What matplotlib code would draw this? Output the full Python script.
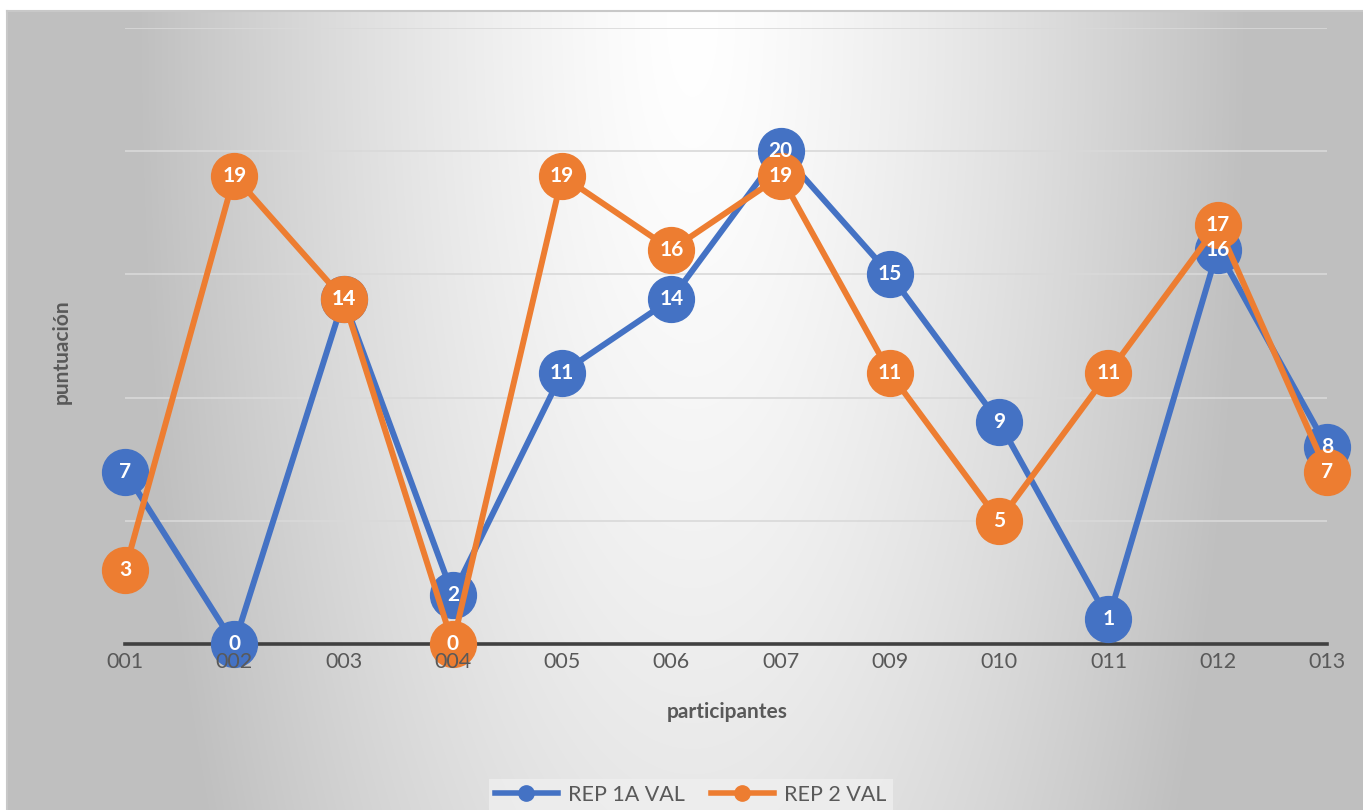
import matplotlib.pyplot as plt
from matplotlib.lines import Line2D
import numpy as np

participantes = ["001", "002", "003", "004", "005", "006",
                 "007", "009", "010", "011", "012", "013"]
rep_1a_val = [7, 0, 14, 2, 11, 14, 20, 15, 9, 1, 16, 8]
rep_2_val = [3, 19, 14, 0, 19, 16, 19, 11, 5, 11, 17, 7]

BLUE = "#4472C4"
ORANGE = "#ED7D31"
TEXT = "#595959"
W, H = 1363, 810

plt.rcParams["font.family"] = ["Lato", "DejaVu Sans"]

fig = plt.figure(figsize=(W / 100, H / 100), dpi=100)

# background: white margin, chart area filled with an elliptical grey-to-white gradient
bg = fig.add_axes([0, 0, 1, 1])
yy, xx = np.mgrid[0:H, 0:W]
d = np.sqrt(((xx - 692) / 557.0) ** 2 + ((yy - 20) / 1663.0) ** 2)
d = np.clip(d, 0, 1) ** 1.35
shade = (255 - 64 * d) / 255.0
shade[:11, :] = 1.0
shade[:, :7] = 1.0
bg.imshow(np.dstack([shade] * 3), extent=(0, W, H, 0), interpolation="bilinear")
bg.plot([7, W], [11, 11], color="#c8c8c8", lw=1.5)
bg.plot([7, 7], [11, H], color="#c8c8c8", lw=1.5)
bg.set_xlim(0, W)
bg.set_ylim(H, 0)
bg.axis("off")

ax = fig.add_axes([125 / W, 166 / H, (1327 - 125) / W, (644 - 28) / H])
ax.patch.set_alpha(0)
x = np.arange(len(participantes))
ax.set_xlim(0, len(participantes) - 1)
ax.set_ylim(0, 25)

for g in [5, 10, 15, 20, 25]:
    ax.axhline(g, color="#d9d9d9", lw=1.2, zorder=1)

for vals, color, z in [(rep_1a_val, BLUE, 3), (rep_2_val, ORANGE, 4)]:
    ax.plot(x, vals, color=color, lw=4.3, marker="o", ms=33, mec=color,
            mfc=color, zorder=z, clip_on=False, solid_capstyle="round")

for vals in [rep_1a_val, rep_2_val]:
    for xi, v in zip(x, vals):
        ax.text(xi, v, str(v), ha="center", va="center", color="white",
                fontsize=15, fontweight="bold", zorder=10)

for s in ["left", "right", "top"]:
    ax.spines[s].set_visible(False)
ax.spines["bottom"].set_color("#404040")
ax.spines["bottom"].set_linewidth(2.6)
ax.spines["bottom"].set_zorder(2)

# category labels drawn as text so they sit above the markers
ax.set_xticks([])
ax.set_yticks([])
for xi, lab in zip(x, participantes):
    ax.text(xi, -18 / 24.65, lab, ha="center", va="center", fontsize=15.5,
            color=TEXT, zorder=11, clip_on=False)

fig.text(727 / W, 1 - 712 / H, "participantes", ha="center", va="center",
         fontsize=15, fontweight="bold", color=TEXT)
fig.text(62 / W, 1 - 352 / H, "puntuación", ha="center", va="center",
         rotation=90, fontsize=15, fontweight="bold", color=TEXT)

handles = [Line2D([], [], color=BLUE, lw=4, marker="o", ms=11),
           Line2D([], [], color=ORANGE, lw=4, marker="o", ms=11)]
leg = fig.legend(handles, ["REP 1A VAL", "REP 2 VAL"], loc="center",
                 bbox_to_anchor=(691 / W, 1 - 795 / H), ncol=2, frameon=True,
                 fontsize=15.5, handlelength=2.9, handletextpad=0.5,
                 columnspacing=1.2, borderpad=0.3, fancybox=False)
leg.get_frame().set_facecolor("#efefef")
leg.get_frame().set_edgecolor("none")
for t in leg.get_texts():
    t.set_color(TEXT)

fig.savefig("out.png", dpi=100)
